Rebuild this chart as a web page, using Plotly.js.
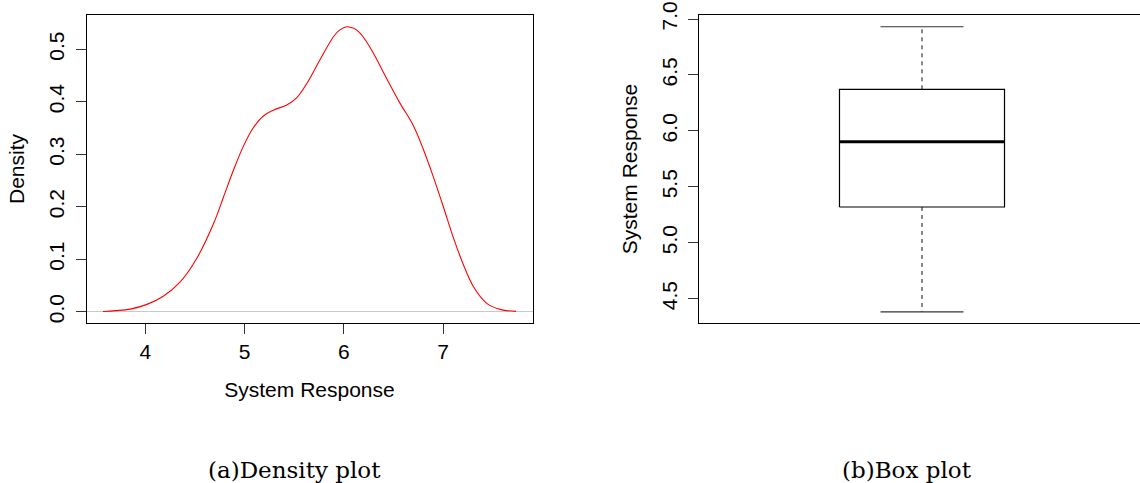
<!DOCTYPE html>
<html>
<head>
<meta charset="utf-8">
<script src="https://cdn.plot.ly/plotly-3.0.1.min.js"></script>
<style>html,body{margin:0;padding:0;background:#fff;}#chart{width:1140px;height:483px;}</style>
</head>
<body>
<div id="chart"></div>
<script>
// ---- Data ----
const densityX = [3.574, 3.70, 3.85, 4.017, 4.185, 4.352, 4.52, 4.688, 4.789, 4.889, 4.99, 5.09, 5.19, 5.29, 5.426, 5.527, 5.628, 5.76, 5.896, 5.96, 6.03, 6.10, 6.164, 6.23, 6.30, 6.43, 6.567, 6.70, 6.80, 6.90, 7.003, 7.10, 7.20, 7.305, 7.44, 7.574, 7.735];
const densityY = [0.0004, 0.002, 0.005, 0.014, 0.030, 0.057, 0.102, 0.168, 0.219, 0.270, 0.316, 0.351, 0.373, 0.384, 0.394, 0.408, 0.435, 0.480, 0.524, 0.537, 0.543, 0.540, 0.531, 0.514, 0.492, 0.445, 0.397, 0.355, 0.310, 0.258, 0.200, 0.143, 0.092, 0.048, 0.016, 0.0045, 0.0006];

// Box plot summary: lower whisker, Q1, median, Q3, upper whisker
const boxStatNames = ["lower whisker", "Q1", "median", "Q3", "upper whisker"];
const boxStats = [4.382, 5.320, 5.903, 6.372, 6.931];

const densityTicks = [0, 0.1, 0.2, 0.3, 0.4, 0.5];
const densityXTicks = [4, 5, 6, 7];
const boxTicks = [4.5, 5.0, 5.5, 6.0, 6.5, 7.0];
const captions = ["(a)Density plot", "(b)Box plot"];
const axisTitles = {x: "System Response", y: "Density", y2: "System Response"};

// ---- Box geometry (style) ----
const center = 1, boxHalf = 0.185, capHalf = 0.093;
const [lo, q1, med, q3, hi] = boxStats;

const sans = "Liberation Sans, Arial, sans-serif";
const fs = 21;

const traces = [
  {x: densityX, y: densityY, type: "scatter", mode: "lines", line: {color: "#ff0000", width: 1.1, shape: "spline", smoothing: 1}, xaxis: "x", yaxis: "y", hoverinfo: "x+y"},
  // box rectangle
  {x: [center - boxHalf, center + boxHalf, center + boxHalf, center - boxHalf, center - boxHalf], y: [q1, q1, q3, q3, q1], type: "scatter", mode: "lines", line: {color: "#000", width: 1.2}, xaxis: "x2", yaxis: "y2"},
  // median
  {x: [center - boxHalf, center + boxHalf], y: [med, med], type: "scatter", mode: "lines", line: {color: "#000", width: 3}, xaxis: "x2", yaxis: "y2"},
  // whiskers (dashed)
  {x: [center, center], y: [q3, hi], type: "scatter", mode: "lines", line: {color: "#111", width: 1, dash: "4px,4px"}, xaxis: "x2", yaxis: "y2"},
  {x: [center, center], y: [q1, lo], type: "scatter", mode: "lines", line: {color: "#111", width: 1, dash: "4px,4px"}, xaxis: "x2", yaxis: "y2"},
  // staples
  {x: [center - capHalf, center + capHalf], y: [hi, hi], type: "scatter", mode: "lines", line: {color: "#333", width: 1.2}, xaxis: "x2", yaxis: "y2"},
  {x: [center - capHalf, center + capHalf], y: [lo, lo], type: "scatter", mode: "lines", line: {color: "#333", width: 1.2}, xaxis: "x2", yaxis: "y2"}
];

const axisCommon = {
  showgrid: false, showline: true, linecolor: "#000", linewidth: 1,
  ticks: "outside", ticklen: 10, tickcolor: "#333", tickwidth: 1,
  tickfont: {family: sans, size: fs, color: "#000"}
};

const layout = {
  width: 1140, height: 483,
  margin: {l: 0, r: 0, t: 0, b: 0},
  paper_bgcolor: "#fff", plot_bgcolor: "#fff",
  showlegend: false,
  font: {family: sans, size: fs, color: "#000"},
  xaxis: Object.assign({}, axisCommon, {
    domain: [86.5 / 1140, 532.5 / 1140], range: [3.408, 7.901],
    tickvals: densityXTicks, mirror: true, zeroline: false, anchor: "y",
    title: {text: axisTitles.x, font: {family: sans, size: fs}, standoff: 20}
  }),
  yaxis: Object.assign({}, axisCommon, {
    domain: [1 - 323 / 483, 1 - 15 / 483], range: [-0.0215, 0.5654],
    tickvals: densityTicks, tickformat: ".1f", tickangle: -90, mirror: true,
    ticklabelstandoff: 3,
    zeroline: true, zerolinecolor: "#c8c8c8", zerolinewidth: 1.2, anchor: "x",
    title: {text: axisTitles.y, font: {family: sans, size: fs}, standoff: 14}
  }),
  xaxis2: Object.assign({}, axisCommon, {
    domain: [699 / 1140, 1], range: [0.5, 0.5 + 441 / 446],
    showticklabels: false, ticks: "", mirror: true, zeroline: false, anchor: "y2"
  }),
  yaxis2: Object.assign({}, axisCommon, {
    domain: [1 - 323 / 483, 1 - 15 / 483], range: [4.283, 7.036],
    tickvals: boxTicks, tickformat: ".1f", tickangle: -90, mirror: false,
    ticklabelstandoff: 3,
    zeroline: false, anchor: "x2",
    title: {text: axisTitles.y2, font: {family: sans, size: fs}, standoff: 14}
  }),
  annotations: [
    {text: captions[0], xref: "paper", yref: "paper", x: 294 / 1140, y: 1 - 470 / 483, xanchor: "center", yanchor: "middle", showarrow: false, font: {family: "DejaVu Serif, serif", size: 23, color: "#000"}},
    {text: captions[1], xref: "paper", yref: "paper", x: 906.7 / 1140, y: 1 - 470 / 483, xanchor: "center", yanchor: "middle", showarrow: false, font: {family: "DejaVu Serif, serif", size: 23, color: "#000"}}
  ]
};

Plotly.newPlot("chart", traces, layout, {staticPlot: true, displayModeBar: false});
</script>
</body>
</html>
